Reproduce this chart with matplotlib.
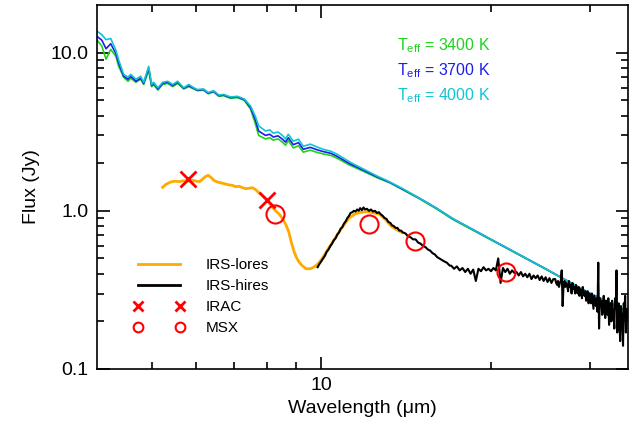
import matplotlib
matplotlib.use('Agg')
from matplotlib import pyplot as plt
from matplotlib.lines import Line2D
from matplotlib.ticker import FixedLocator, FixedFormatter, NullFormatter

plt.rcParams['font.family'] = ['Liberation Sans', 'DejaVu Sans']
plt.rcParams['mathtext.fontset'] = 'custom'
plt.rcParams['mathtext.rm'] = 'Liberation Sans'

# photospheric models (Jy) on a common wavelength grid (um)
model_wl = [4.01, 4.08, 4.15, 4.23, 4.32, 4.37, 4.46, 4.54, 4.59, 4.69, 4.78, 4.84,
            4.94, 5.00, 5.04, 5.13, 5.23, 5.34, 5.45, 5.56, 5.70, 5.82, 5.94, 6.03,
            6.18, 6.30, 6.44, 6.58, 6.71, 6.90, 7.10, 7.30, 7.49, 7.64, 7.74, 7.96,
            8.10, 8.22, 8.38, 8.53, 8.64, 8.74, 8.92, 9.11, 9.29, 9.56, 9.84, 10.08,
            10.40, 10.67, 11.25, 11.87, 12.56, 13.25, 14.0, 15.0, 16.0, 17.13, 20.0,
            25.0, 30.0, 34.95]
model_4000 = [13.6, 13.0, 12.1, 12.3, 10.4, 9.0, 7.3, 7.0, 7.3, 6.8, 7.1, 6.5,
              8.2, 6.3, 6.5, 6.0, 6.5, 6.6, 6.3, 6.6, 6.0, 6.3, 6.0, 5.85,
              5.9, 5.6, 5.75, 5.4, 5.45, 5.25, 5.3, 5.1, 4.6, 3.95, 3.45, 3.2,
              3.25, 3.1, 3.15, 3.0, 2.85, 3.05, 2.76, 2.84, 2.56, 2.64, 2.53, 2.45,
              2.38, 2.28, 2.03, 1.84, 1.66, 1.52, 1.37, 1.19, 1.04, 0.89, 0.66,
              0.43, 0.30, 0.232]
model_3700 = [12.6, 12.0, 10.6, 11.4, 9.9, 8.6, 7.1, 6.8, 7.1, 6.6, 6.9, 6.4,
              8.0, 6.2, 6.4, 5.9, 6.4, 6.5, 6.2, 6.5, 5.95, 6.2, 5.95, 5.8,
              5.85, 5.55, 5.7, 5.35, 5.4, 5.2, 5.25, 5.05, 4.5, 3.75, 3.2, 3.0,
              3.05, 2.93, 2.98, 2.84, 2.72, 2.9, 2.62, 2.7, 2.45, 2.52, 2.43, 2.37,
              2.31, 2.21, 1.98, 1.81, 1.64, 1.51, 1.36, 1.19, 1.04, 0.89, 0.66,
              0.43, 0.30, 0.232]
model_3400 = [11.9, 11.0, 9.1, 10.5, 9.5, 8.2, 7.0, 6.6, 6.9, 6.5, 6.8, 6.3,
              7.7, 6.1, 6.3, 5.8, 6.3, 6.4, 6.1, 6.4, 5.9, 6.1, 5.9, 5.75,
              5.8, 5.5, 5.65, 5.3, 5.35, 5.15, 5.2, 5.0, 4.4, 3.55, 3.0, 2.85,
              2.9, 2.8, 2.85, 2.72, 2.6, 2.78, 2.5, 2.58, 2.35, 2.42, 2.34, 2.29,
              2.24, 2.15, 1.94, 1.78, 1.62, 1.50, 1.35, 1.18, 1.03, 0.88, 0.655,
              0.428, 0.298, 0.231]

# Spitzer IRS low resolution
lores_wl = [5.23, 5.30, 5.40, 5.50, 5.60, 5.70, 5.80, 5.90, 6.00, 6.08, 6.15, 6.22,
            6.30, 6.38, 6.46, 6.55, 6.65, 6.75, 6.85, 6.95, 7.05, 7.15, 7.25, 7.35,
            7.45, 7.55, 7.65, 7.75, 7.85, 7.95, 8.05, 8.15, 8.25, 8.35, 8.45, 8.55,
            8.65, 8.75, 8.85, 8.95, 9.05, 9.15, 9.25, 9.40, 9.55, 9.70, 9.85, 10.0,
            10.3, 10.6, 10.9, 11.2, 11.5, 11.8, 12.1, 12.4, 12.7, 13.0, 13.3, 13.6,
            13.9]
lores_flux = [1.41, 1.47, 1.52, 1.54, 1.53, 1.55, 1.54, 1.56, 1.54, 1.53, 1.58, 1.64,
              1.68, 1.62, 1.55, 1.52, 1.50, 1.48, 1.46, 1.45, 1.42, 1.43, 1.40, 1.38,
              1.39, 1.40, 1.36, 1.30, 1.25, 1.20, 1.14, 1.08, 1.02, 0.98, 0.94, 0.88,
              0.82, 0.74, 0.63, 0.55, 0.50, 0.47, 0.45, 0.43, 0.43, 0.44, 0.46, 0.49,
              0.58, 0.68, 0.79, 0.90, 0.96, 0.98, 0.99, 0.97, 0.95, 0.88, 0.80, 0.76,
              0.73]

# Spitzer IRS high resolution
hires_wl = [9.85, 9.92, 10.00, 10.08, 10.15, 10.22, 10.30, 10.38, 10.45, 10.52, 10.60,
            10.68, 10.75, 10.82, 10.90, 10.97, 11.05, 11.12, 11.20, 11.27, 11.35, 11.42,
            11.50, 11.58, 11.65, 11.72, 11.80, 11.88, 11.95, 12.05, 12.15, 12.25, 12.35,
            12.45, 12.55, 12.65, 12.75, 12.85, 12.95, 13.05, 13.15, 13.25, 13.35, 13.45,
            13.55, 13.65, 13.75, 13.85, 13.95, 14.10, 14.25, 14.40, 14.55, 14.70, 14.85,
            15.00, 15.15, 15.30, 15.45, 15.60, 15.75, 15.90, 16.05, 16.20, 16.35, 16.50,
            16.70, 16.90,
            17.0, 17.2, 17.4, 17.6, 17.8, 18.0, 18.2, 18.4, 18.6, 18.8,
            19.0, 19.2, 19.4, 19.6, 19.8, 20.0, 20.2, 20.4, 20.6, 20.8,
            21.0, 21.2, 21.4, 21.6, 21.8, 22.0, 22.2, 22.4, 22.6, 22.8,
            23.0, 23.2, 23.4, 23.6, 23.8, 24.0, 24.2, 24.4, 24.6, 24.8,
            25.0, 25.2, 25.4, 25.6, 25.8,
            26.0, 26.1, 26.2, 26.3, 26.4, 26.5, 26.6, 26.7, 26.8, 26.9,
            27.0, 27.1, 27.2, 27.3, 27.4, 27.5, 27.6, 27.7, 27.8, 27.9,
            28.0, 28.1, 28.2, 28.3, 28.4, 28.5, 28.6, 28.7, 28.8, 28.9,
            29.0, 29.1, 29.2, 29.3, 29.4, 29.5, 29.6, 29.7, 29.8, 29.9,
            30.0, 30.1, 30.2, 30.3, 30.4, 30.5, 30.6, 30.7, 30.8, 30.9,
            31.0, 31.1, 31.2, 31.3, 31.4, 31.5, 31.6, 31.7, 31.8, 31.9,
            32.0, 32.1, 32.2, 32.3, 32.4, 32.5, 32.6, 32.7, 32.8, 32.9,
            33.0, 33.1, 33.2, 33.3, 33.4, 33.5, 33.6, 33.7, 33.8, 33.9,
            34.0, 34.1, 34.2, 34.3, 34.4, 34.5, 34.6, 34.7, 34.8, 34.9,
            35.0]
hires_flux = [0.44, 0.46, 0.48, 0.50, 0.52, 0.55, 0.57, 0.60, 0.62, 0.65, 0.67,
              0.71, 0.73, 0.77, 0.79, 0.83, 0.86, 0.90, 0.93, 0.97, 0.98, 1.00,
              0.99, 1.02, 1.00, 1.04, 1.01, 1.05, 1.02, 1.03, 1.00, 1.02, 0.99,
              1.00, 0.97, 0.98, 0.95, 0.93, 0.90, 0.89, 0.85, 0.84, 0.81, 0.80,
              0.78, 0.78, 0.75, 0.75, 0.73, 0.72, 0.69, 0.68, 0.66, 0.66, 0.63,
              0.62, 0.60, 0.59, 0.57, 0.56, 0.54, 0.53, 0.51, 0.50, 0.49, 0.48,
              0.47, 0.45,
              0.45, 0.43, 0.445, 0.42, 0.435, 0.41, 0.43, 0.40, 0.425, 0.36,
              0.43, 0.415, 0.44, 0.42, 0.43, 0.415, 0.435, 0.42, 0.50, 0.35,
              0.435, 0.41, 0.43, 0.40, 0.42, 0.405, 0.41, 0.39, 0.41, 0.385,
              0.40, 0.38, 0.40, 0.37, 0.39, 0.375, 0.39, 0.365, 0.385, 0.36,
              0.38, 0.355, 0.375, 0.35, 0.37,
              0.37, 0.35, 0.34, 0.36, 0.33, 0.35, 0.36, 0.42, 0.25, 0.34,
              0.36, 0.33, 0.35, 0.34, 0.31, 0.36, 0.33, 0.34, 0.30, 0.35,
              0.32, 0.33, 0.30, 0.34, 0.31, 0.30, 0.33, 0.29, 0.32, 0.31,
              0.28, 0.33, 0.30, 0.29, 0.31, 0.27, 0.29, 0.31, 0.26, 0.30,
              0.28, 0.26, 0.30, 0.27, 0.24, 0.29, 0.27, 0.25, 0.28, 0.23,
              0.47, 0.18, 0.28, 0.25, 0.27, 0.22, 0.24, 0.29, 0.23, 0.21,
              0.27, 0.24, 0.22, 0.28, 0.19, 0.25, 0.26, 0.20, 0.27, 0.23,
              0.22, 0.18, 0.28, 0.24, 0.42, 0.17, 0.23, 0.26, 0.20, 0.15,
              0.25, 0.22, 0.19, 0.14, 0.26, 0.23, 0.29, 0.17, 0.20, 0.24,
              0.21]

irac_wl = [5.8, 8.0]
irac_flux = [1.58, 1.17]
msx_wl = [8.28, 12.13, 14.65, 21.3]
msx_flux = [0.96, 0.83, 0.64, 0.41]

model_labels = ['3400', '3700', '4000']
model_colors = ['#1ed21e', '#1e1ee6', '#14c3d2']

fig = plt.figure(figsize=(6.34, 4.28), dpi=100)
ax = fig.add_axes([0.153, 0.138, 0.8375, 0.850])

for flux, col in zip([model_3400, model_3700, model_4000], model_colors):
    ax.plot(model_wl, flux, color=col, lw=1.2)

ax.plot(lores_wl, lores_flux, color='#ffaa00', lw=2.0)
ax.plot(hires_wl, hires_flux, color='black', lw=1.5)
ax.plot(irac_wl, irac_flux, ls='none', marker='x', ms=11, mew=2.0, color='#ff0000')
ax.plot(msx_wl, msx_flux, ls='none', marker='o', ms=13, mew=1.5, mfc='none', mec='#ff0000')

ax.set_xscale('log')
ax.set_yscale('log')
ax.set_xlim(4.0, 35.0)
ax.set_ylim(0.1, 20.0)

ax.xaxis.set_major_locator(FixedLocator([10]))
ax.xaxis.set_major_formatter(FixedFormatter(['10']))
ax.xaxis.set_minor_locator(FixedLocator([5, 6, 7, 8, 9, 20, 30]))
ax.xaxis.set_minor_formatter(NullFormatter())
ax.yaxis.set_major_locator(FixedLocator([0.1, 1.0, 10.0]))
ax.yaxis.set_major_formatter(FixedFormatter(['0.1', '1.0', '10.0']))
ax.yaxis.set_minor_locator(FixedLocator([0.2, 0.3, 0.4, 0.5, 0.6, 0.7, 0.8, 0.9,
                                         2, 3, 4, 5, 6, 7, 8, 9]))
ax.yaxis.set_minor_formatter(NullFormatter())
ax.tick_params(which='both', direction='in', top=True, right=True, width=1.2,
               labelsize=14, pad=6)
ax.tick_params(which='major', length=9)
ax.tick_params(which='minor', length=5)
for sp in ax.spines.values():
    sp.set_linewidth(1.2)

ax.set_xlabel('Wavelength (\u03bcm)', fontsize=14, labelpad=4)
ax.set_ylabel('Flux (Jy)', fontsize=14, labelpad=8)

for i, (lab, col) in enumerate(zip(model_labels, model_colors)):
    ax.text(0.565, 0.890 - 0.069 * i, r'T$_{\rm eff}$ = ' + lab + ' K', color=col,
            fontsize=11.5, transform=ax.transAxes, va='center')

handles = [Line2D([], [], color='#ffaa00', lw=2.0),
           Line2D([], [], color='black', lw=2.0),
           Line2D([], [], ls='none', marker='x', ms=7, mew=2.0, color='#ff0000'),
           Line2D([], [], ls='none', marker='o', ms=7, mew=1.5, mfc='none', mec='#ff0000')]
ax.legend(handles, ['IRS-lores', 'IRS-hires', 'IRAC', 'MSX'], loc='upper left',
          bbox_to_anchor=(0.055, 0.325), frameon=False, fontsize=11, numpoints=2,
          handlelength=3.3, handletextpad=1.4, labelspacing=0.45, borderpad=0)

fig.savefig('out.png', dpi=100)
